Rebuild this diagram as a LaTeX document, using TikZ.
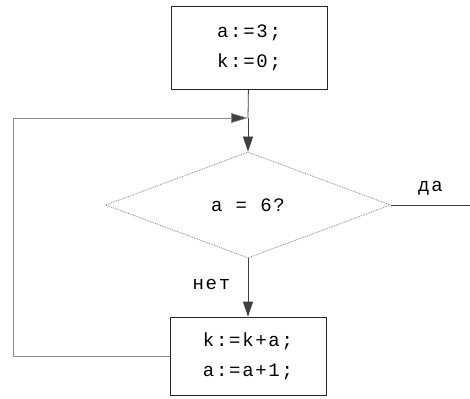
\documentclass[tikz,border=0pt]{standalone}
\usepackage{fontspec}
\setmonofont[LetterSpace=9]{Liberation Mono}
\usetikzlibrary{arrows.meta,shapes.geometric}

\begin{document}
\begin{tikzpicture}[x=1pt,y=-1pt,>={Triangle[length=15pt,width=10pt]},
  font=\ttfamily\fontsize{19}{30}\selectfont,
  box/.style={draw=black!85,line width=0.8pt,align=center,minimum width=156pt,inner sep=0pt},
  cond/.style={diamond,draw=gray,densely dotted,line width=0.8pt,minimum width=285pt,minimum height=106pt,inner sep=0pt},
  flow/.style={draw=black!75,line width=0.8pt},
  back/.style={draw=gray!90,line width=0.7pt,-{Triangle[length=17pt,width=10pt,fill=black!75]}}]
\useasboundingbox (0,0) rectangle (470,398);
\node[box,minimum height=83pt] (init) at (249,48) {a:=3;\\k:=0;};
\node[cond] (test) at (248,205) {a = 6?};
\node[box,minimum height=78pt] (body) at (248,356) {k:=k+a;\\a:=a+1;};
\coordinate (join) at (248,118);
\coordinate (exit) at (470,205);
\draw[flow] (init) -- (join);
\draw[flow,->] (join) -- (test.north);
\draw[flow,->] (test.south) -- node[left=14pt,pos=0.45] (no) {нет} (body);
\draw[flow] (test.east) -- node[above=6pt,pos=0.5] (yes) {да} (exit);
\draw[back] (body.west) -- (13,356) |- (join);
\end{tikzpicture}
\end{document}
